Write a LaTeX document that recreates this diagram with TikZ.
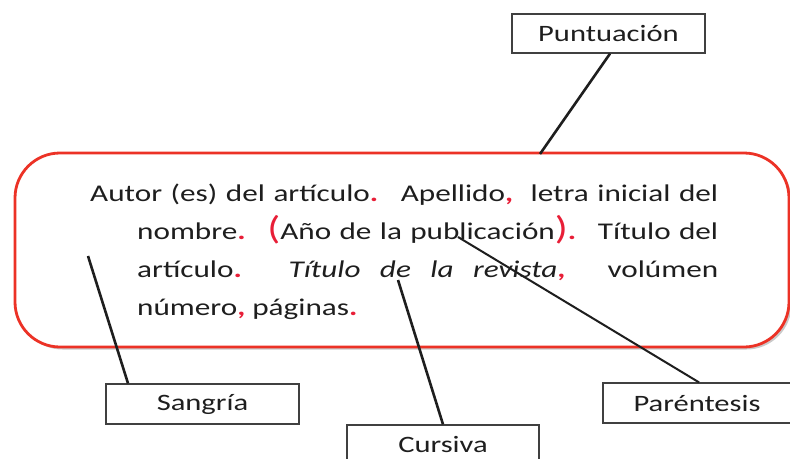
\documentclass[tikz,border=0pt]{standalone}
\usepackage{fontspec}
\setmainfont[FakeStretch=1.3]{Carlito}
\usetikzlibrary{shadows}
\definecolor{boxred}{RGB}{236,50,38}
\definecolor{punctred}{RGB}{232,30,55}
\definecolor{ink}{RGB}{30,30,30}
\newcommand{\rp}[1]{{\color{punctred}\bfseries #1}}
\newcommand{\rbig}[1]{{\color{punctred}\fontsize{33}{33}\selectfont #1}}
\tikzset{
  labelbox/.style={draw=ink!85, line width=1.3pt, fill=white, inner sep=0pt,
    font=\fontsize{23.5}{26}\selectfont, text=ink},
  mainline/.style={anchor=base west, inner sep=0pt, text=ink,
    font=\fontsize{24}{30}\selectfont},
  conn/.style={draw=ink, line width=2.6pt},
}
\begin{document}
\begin{tikzpicture}[x=1pt,y=-1pt]
\useasboundingbox (0,0) rectangle (790,458);
% main rounded box
\node[draw=boxred, line width=2.8pt, rounded corners=45pt, fill=white,
  minimum width=774pt, minimum height=194pt, inner sep=0pt,
  drop shadow={shadow xshift=2.5pt, shadow yshift=-2.5pt, fill=black!35, opacity=0.6}]
  (main) at (402,250) {};
% text lines
\node[mainline] (l1) at (90,201)
  {\makebox[628pt][s]{Autor (es) del artículo\rp{.} \ Apellido\rp{,} \ letra inicial del}};
\node[mainline] (l2) at (137,239)
  {\makebox[581pt][s]{nombre\rp{.} \ \rbig{(}Año de la publicación\rbig{)}\rp{.} \ Título del}};
\node[mainline] (l3) at (137,277)
  {\makebox[581pt][s]{artículo\rp{.} \textit{Título de la revista}\rp{,} \ volúmen}};
\node[mainline] (l4) at (137,315)
  {número\rp{,} páginas\rp{.}};
% label boxes
\node[labelbox, minimum width=193pt, minimum height=39pt] (punt) at (608.5,33.5) {Puntuación};
\node[labelbox, minimum width=193pt, minimum height=40pt] (sang) at (202.5,404) {Sangría};
\node[labelbox, minimum width=192pt, minimum height=45pt, text depth=7pt] (curs) at (443,447.5) {Cursiva};
\node[labelbox, minimum width=188pt, minimum height=40pt] (pare) at (697,403) {Paréntesis};
% free ends of connectors
\coordinate (pA) at (540,154);
\coordinate (sA) at (88,256);
\coordinate (cA) at (398,280);
\coordinate (qA) at (458,237);
% connectors
\draw[conn] ([xshift=1.5pt]punt.south) -- (pA);
\draw[conn] (sA) -- ([xshift=-74.5pt]sang.north);
\draw[conn] (cA) -- (curs.north);
\draw[conn, line width=2pt] (qA) -- ([xshift=2pt]pare.north);
\end{tikzpicture}
\end{document}
